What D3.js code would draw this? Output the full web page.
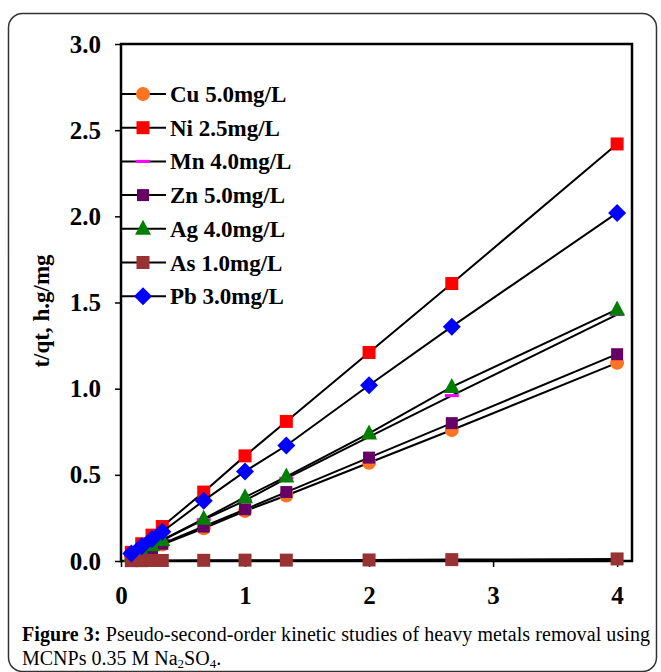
<!DOCTYPE html>
<html>
<head>
<meta charset="utf-8">
<script src="https://cdn.jsdelivr.net/npm/d3@7"></script>
<style>
  body { margin: 0; background: #fff; }
  svg { display: block; }
</style>
</head>
<body>
<div id="chart"></div>
<script>
// time (h) and t/qt values per metal
const times = [0.083, 0.167, 0.25, 0.333, 0.667, 1, 1.333, 2, 2.667, 4]
const cu = [0.024, 0.048, 0.072, 0.096, 0.19, 0.29, 0.38, 0.57, 0.76, 1.15]
const ni = [0.05, 0.10, 0.15, 0.20, 0.40, 0.61, 0.81, 1.21, 1.61, 2.42]
const mn = [0.03, 0.06, 0.09, 0.12, 0.24, 0.35, 0.48, 0.72, 0.96, 1.43]
const zn = [0.025, 0.05, 0.075, 0.10, 0.20, 0.30, 0.40, 0.60, 0.80, 1.20]
const ag = [0.03, 0.061, 0.092, 0.122, 0.245, 0.37, 0.49, 0.74, 1.01, 1.46]
const as = [0.002, 0.002, 0.003, 0.003, 0.004, 0.005, 0.005, 0.006, 0.008, 0.012]
const pb = [0.043, 0.085, 0.127, 0.17, 0.35, 0.52, 0.67, 1.02, 1.36, 2.02]

const seriesNames = ['Cu 5.0mg/L', 'Ni 2.5mg/L', 'Mn 4.0mg/L', 'Zn 5.0mg/L', 'Ag 4.0mg/L', 'As 1.0mg/L', 'Pb 3.0mg/L']
const seriesValues = [cu, ni, mn, zn, ag, as, pb]
const seriesColors = ['#ff7420', '#ff0000', '#ff00ff', '#660066', '#008000', '#993333', '#0000ff']
const seriesShapes = ['circle', 'square', 'dash', 'smallSquare', 'triangle', 'square', 'diamond']

const xTicks = [0, 1, 2, 3, 4]
const yTicks = [0, 0.5, 1.0, 1.5, 2.0, 2.5, 3.0]

const W = 661, H = 672
const plot = { left: 121, right: 632, top: 44, bottom: 561 }
const serif = '"Liberation Serif", "Times New Roman", serif'

const svg = d3.select('#chart').append('svg')
  .attr('width', W)
  .attr('height', H)

svg.append('rect').attr('width', W).attr('height', H).attr('fill', '#fff')

// rounded frame around figure + caption
svg.append('rect')
  .attr('x', 8.5).attr('y', 13.5)
  .attr('width', 648).attr('height', 658)
  .attr('rx', 14)
  .attr('fill', 'none')
  .attr('stroke', '#333')
  .attr('stroke-width', 1.5)

const x = d3.scaleLinear().domain([0, 4.12]).range([plot.left, plot.right])
const y = d3.scaleLinear().domain([0, 3]).range([plot.bottom, plot.top])

// axes
const xAxis = svg.append('g')
  .attr('transform', `translate(0,${plot.bottom})`)
  .call(d3.axisBottom(x).tickValues(xTicks).tickFormat(d3.format('d')).tickSize(6).tickPadding(19))

const yAxis = svg.append('g')
  .attr('transform', `translate(${plot.left},0)`)
  .call(d3.axisLeft(y).tickValues(yTicks).tickFormat(d3.format('.1f')).tickSize(6).tickPadding(14))

;[xAxis, yAxis].forEach(g => {
  g.select('.domain').remove()
  g.selectAll('line').attr('stroke', '#000').attr('stroke-width', 1.5)
  g.selectAll('text')
    .attr('fill', '#000')
    .attr('style', `font-family: ${serif}; font-size: 25px; font-weight: bold`)
})

// plot area box
svg.append('rect')
  .attr('x', plot.left).attr('y', plot.top)
  .attr('width', plot.right - plot.left)
  .attr('height', plot.bottom - plot.top)
  .attr('fill', 'none')
  .attr('stroke', '#000')
  .attr('stroke-width', 2.5)

svg.append('text')
  .text('t/qt, h.g/mg')
  .attr('transform', 'translate(49,311) rotate(-90)')
  .attr('text-anchor', 'middle')
  .attr('style', `font-family: ${serif}; font-size: 23px; font-weight: bold`)

function drawMarker (g, shape, color, cx, cy) {
  if (shape === 'circle') {
    g.append('circle').attr('cx', cx).attr('cy', cy).attr('r', 7).attr('fill', color)
  } else if (shape === 'square' || shape === 'smallSquare') {
    const s = shape === 'square' ? 13 : 12
    g.append('rect').attr('x', cx - s / 2).attr('y', cy - s / 2).attr('width', s).attr('height', s).attr('fill', color)
  } else if (shape === 'dash') {
    g.append('rect').attr('x', cx - 7).attr('y', cy - 1.5).attr('width', 14).attr('height', 3).attr('fill', color)
  } else if (shape === 'triangle') {
    g.append('path').attr('d', `M${cx},${cy - 9}L${cx + 8},${cy + 6}L${cx - 8},${cy + 6}Z`).attr('fill', color)
  } else if (shape === 'diamond') {
    g.append('path').attr('d', `M${cx},${cy - 9}L${cx + 9},${cy}L${cx},${cy + 9}L${cx - 9},${cy}Z`).attr('fill', color)
  }
}

const line = d3.line().x((d, i) => x(times[i])).y(d => y(d))

const series = svg.append('g')
seriesValues.forEach((vals, k) => {
  const g = series.append('g')
  g.append('path')
    .attr('d', line(vals))
    .attr('fill', 'none')
    .attr('stroke', '#000')
    .attr('stroke-width', 2)
  vals.forEach((v, i) => drawMarker(g, seriesShapes[k], seriesColors[k], x(times[i]), y(v)))
})

// legend
const legendG = svg.append('g')
seriesNames.forEach((name, k) => {
  const ly = 94 + k * 33.7
  legendG.append('line')
    .attr('x1', plot.left + 1).attr('x2', 166)
    .attr('y1', ly).attr('y2', ly)
    .attr('stroke', '#000').attr('stroke-width', 2)
  drawMarker(legendG, seriesShapes[k], seriesColors[k], 143, ly)
  legendG.append('text')
    .text(name)
    .attr('x', 170).attr('y', ly + 8)
    .attr('style', `font-family: ${serif}; font-size: 23px; font-weight: bold`)
})

// caption
const cap = svg.append('g').attr('style', `font-family: ${serif}; font-size: 20px`)
const l1 = cap.append('text')
  .attr('x', 22).attr('y', 641)
  .attr('textLength', 628)
  .attr('lengthAdjust', 'spacing')
l1.append('tspan').attr('font-weight', 'bold').text('Figure 3:')
l1.append('tspan').text(' Pseudo-second-order kinetic studies of heavy metals removal using')

const l2 = cap.append('text').attr('x', 22).attr('y', 665)
l2.append('tspan').text('MCNPs 0.35 M Na')
l2.append('tspan').attr('font-size', 13).attr('dy', 3).text('2')
l2.append('tspan').attr('dy', -3).text('SO')
l2.append('tspan').attr('font-size', 13).attr('dy', 3).text('4')
l2.append('tspan').attr('dy', -3).text('.')
</script>
</body>
</html>
